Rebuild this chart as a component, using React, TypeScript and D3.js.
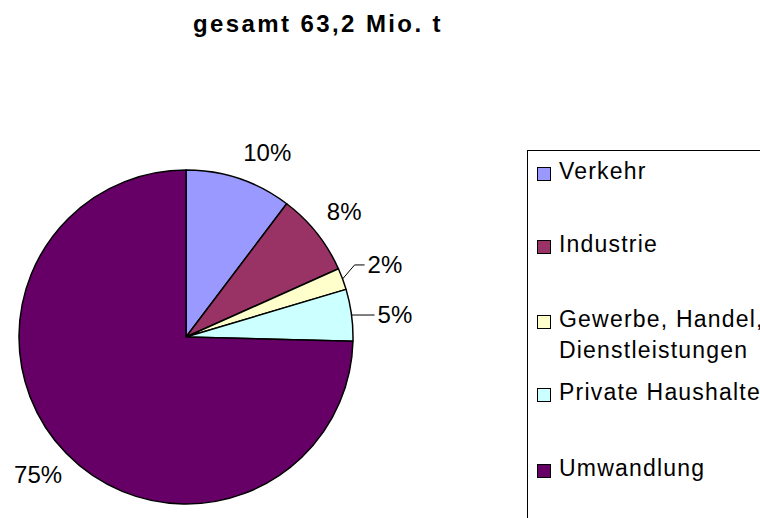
import React from "react";
import * as d3 from "d3";

const categories = ["Verkehr", "Industrie", "Gewerbe, Handel, Dienstleistungen", "Private Haushalte", "Umwandlung"];
const legendLines = [["Verkehr"], ["Industrie"], ["Gewerbe, Handel,", "Dienstleistungen"], ["Private Haushalte"], ["Umwandlung"]];
const values = [10.3, 8.0, 2.1, 5.0, 74.6];
const colors = ["#9999FF", "#993366", "#FFFFCC", "#CCFFFF", "#660066"];
const title = "gesamt 63,2 Mio. t";

// layout
const W = 760, H = 518;
const CX = 186, CY = 337, R = 167;
const leaderMode = [false, false, true, true, false];
const leaderRise = [0, 0, 14, 0, 0];
const legendBaselines = [179, 252, 327, 400, 476];

export default function App() {
  const pie = d3.pie<number>().sort(null).value((d) => d)(values);
  const arc = d3.arc<d3.PieArcDatum<number>>().innerRadius(0).outerRadius(R);
  const fmt = (v: number) => `${Math.round(v)}%`;
  const total = d3.sum(values);

  return (
    <svg width={W} height={H} style={{ position: "absolute", left: 0, top: 0 }} fontFamily="Liberation Sans, Arial, sans-serif">
      <rect width={W} height={H} fill="#fff" />
      <text x={318} y={32} textAnchor="middle" fontSize={24} fontWeight="bold" letterSpacing={2.4} fill="#000">{title}</text>
      <g transform={`translate(${CX},${CY})`}>
        {pie.map((p, i) => (
          <path key={i} d={arc(p) || ""} fill={colors[i]} stroke="#000" strokeWidth={1.5} strokeLinejoin="round" />
        ))}
        {pie.map((p, i) => {
          const mid = (p.startAngle + p.endAngle) / 2;
          const sx = Math.sin(mid), sy = -Math.cos(mid);
          const label = fmt((p.value / total) * 100);
          if (leaderMode[i]) {
            const ex = sx * R, ey = sy * R;
            const rise = leaderRise[i];
            const kx = ex + (rise ? 12 : 0), ky = ey - rise;
            const hx = kx + (rise ? 10 : 23);
            return (
              <g key={"l" + i}>
                <polyline points={`${ex},${ey} ${kx},${ky} ${hx},${ky}`} fill="none" stroke="#000" strokeWidth={1} />
                <text x={hx + 3} y={ky + 8} fontSize={24} fill="#000">{label}</text>
              </g>
            );
          }
          const ax = sx * 180, ay = sy * 180;
          const right = sx >= 0, top = sy < 0;
          return (
            <text key={"l" + i} x={ax + (right ? 0 : 5)} y={top ? ay - 5 : ay + 20} textAnchor={right ? "start" : "end"} fontSize={24} fill="#000">{label}</text>
          );
        })}
      </g>
      <rect x={527.5} y={150.5} width={400} height={500} fill="#fff" stroke="#000" strokeWidth={1} />
      {categories.map((c, i) => (
        <g key={c}>
          <rect x={537.5} y={legendBaselines[i] - 11.5} width={13} height={13} fill={colors[i]} stroke="#000" strokeWidth={1} />
          {legendLines[i].map((ln, j) => (
            <text key={j} x={559} y={legendBaselines[i] + j * 31} fontSize={23} letterSpacing={1.2} fill="#000">{ln}</text>
          ))}
        </g>
      ))}
    </svg>
  );
}
